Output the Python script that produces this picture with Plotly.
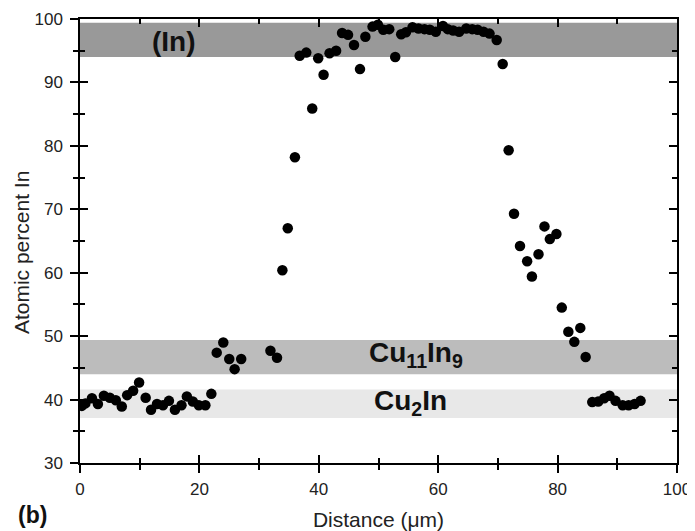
import plotly.graph_objects as go

# ---- data ----
distance = [0.3, 0.9, 2.0, 3.0, 4.0, 5.0, 6.0, 7.0, 7.9, 8.9, 9.9, 11.0, 11.9, 12.9, 13.9,
            14.9, 15.9, 17.0, 17.9, 18.9, 19.9, 21.0, 22.0, 22.9, 24.0, 25.0, 25.9, 27.0,
            31.9, 33.0, 33.9, 34.8, 36.0, 36.8, 37.9, 38.9, 39.9, 40.8, 41.8, 42.9, 43.9,
            44.9, 45.9, 46.9, 47.8, 49.0, 49.9, 50.8, 51.8, 52.8, 53.8, 54.6, 55.7, 56.7,
            57.7, 58.6, 59.6, 60.8, 61.6, 62.5, 63.5, 64.7, 65.7, 66.6, 67.6, 68.6, 69.8,
            70.8, 71.8, 72.7, 73.7, 74.9, 75.7, 76.8, 77.8, 78.7, 79.8, 80.7, 81.8, 82.8,
            83.8, 84.7, 85.8, 86.8, 87.8, 88.7, 89.7, 90.9, 91.9, 92.9, 93.9]
atomic_in = [39.0, 39.4, 40.2, 39.3, 40.6, 40.3, 39.9, 38.9, 40.7, 41.4, 42.7, 40.3, 38.4, 39.3,
             39.1, 39.8, 38.4, 39.1, 40.5, 39.7, 39.1, 39.1, 40.9, 47.4, 49.0, 46.4, 44.8, 46.4,
             47.7, 46.6, 60.4, 67.0, 78.2, 94.2, 94.7, 85.9, 93.8, 91.2, 94.6, 95.0, 97.8,
             97.5, 95.9, 92.1, 97.2, 98.8, 99.1, 98.3, 98.4, 94.0, 97.6, 97.9, 98.7, 98.5,
             98.4, 98.3, 98.0, 98.9, 98.4, 98.2, 98.0, 98.5, 98.4, 98.3, 98.0, 97.7, 96.7,
             92.9, 79.3, 69.3, 64.2, 61.8, 59.4, 62.9, 67.3, 65.3, 66.1, 54.5, 50.7, 49.1,
             51.3, 46.7, 39.6, 39.7, 40.2, 40.6, 39.8, 39.1, 39.1, 39.3, 39.8]

band_labels = ["(In)", "Cu<sub>11</sub>In<sub>9</sub>", "Cu<sub>2</sub>In"]
band_low = [94.0, 44.0, 37.1]
band_high = [99.4, 49.4, 41.6]
band_label_x = [15.7, 56.2, 55.4]
band_label_y = [96.5, 47.1, 39.5]
band_colors = ["#999999", "#bcbcbc", "#e8e8e8"]

x_range = [0, 100]
y_range = [30, 100]

FONT = "Liberation Sans, Arial, Helvetica, sans-serif"

fig = go.Figure()
fig.add_trace(go.Scatter(x=distance, y=atomic_in, mode="markers",
                         marker=dict(color="black", size=10.5, line=dict(width=0)),
                         showlegend=False))
# invisible trace to activate overlay axes (crossing ticks)
fig.add_trace(go.Scatter(x=distance, y=atomic_in, mode="markers", xaxis="x2", yaxis="y2",
                         marker=dict(opacity=0), showlegend=False, hoverinfo="skip"))

for lo, hi, col in zip(band_low, band_high, band_colors):
    fig.add_shape(type="rect", xref="paper", x0=0, x1=1, yref="y", y0=lo, y1=hi,
                  fillcolor=col, line=dict(width=0), layer="below")

for lab, lx, ly in zip(band_labels, band_label_x, band_label_y):
    fig.add_annotation(x=lx, y=ly, xref="x", yref="y", text="<b>" + lab + "</b>",
                       xanchor="center", yanchor="middle",
                       showarrow=False, font=dict(family=FONT, size=28, color="#111"))

fig.add_annotation(x=-0.08, y=-0.117, xref="paper", yref="paper", text="<b>(b)</b>",
                   xanchor="center", yanchor="middle",
                   showarrow=False, font=dict(family=FONT, size=23, color="#111"))

# y-axis title as annotation (placed slightly below centre, as in the reference)
fig.add_annotation(x=-0.097, y=0.473, xref="paper", yref="paper", text="Atomic percent In",
                   textangle=-90, xanchor="center", yanchor="middle",
                   showarrow=False, font=dict(family=FONT, size=21, color="#222"))

axis_common = dict(showgrid=False, zeroline=False, linecolor="black", linewidth=1.5,
                   tickcolor="black", tickwidth=1.5, automargin=False)

fig.update_layout(
    width=687, height=523,
    margin=dict(l=72, r=18, t=11, b=68, autoexpand=False),
    paper_bgcolor="white", plot_bgcolor="white",
    font=dict(family=FONT, color="#222"),
    xaxis=dict(range=x_range, dtick=20, tick0=0, ticks="outside", ticklen=8,
               showline=True, mirror=True, tickfont=dict(size=17),
               ticklabelstandoff=2,
               minor=dict(dtick=10, ticks="outside", ticklen=5, tickwidth=1.5, tickcolor="black"),
               title=dict(text="Distance (μm)", font=dict(size=21), standoff=14),
               **axis_common),
    yaxis=dict(range=y_range, dtick=10, tick0=0, ticks="outside", ticklen=8,
               showline=True, mirror=True, tickfont=dict(size=17),
               ticklabelstandoff=4,
               minor=dict(dtick=5, ticks="outside", ticklen=5, tickwidth=1.5, tickcolor="black"),
               **axis_common),
    xaxis2=dict(range=x_range, overlaying="x", anchor="y", side="bottom", dtick=20, tick0=0,
                ticks="inside", ticklen=8, showline=True, mirror="ticks", showticklabels=False,
                minor=dict(dtick=10, ticks="inside", ticklen=5, tickwidth=1.5, tickcolor="black"),
                **axis_common),
    yaxis2=dict(range=y_range, overlaying="y", anchor="x", side="left", dtick=10, tick0=0,
                ticks="inside", ticklen=8, showline=True, mirror="ticks", showticklabels=False,
                minor=dict(dtick=5, ticks="inside", ticklen=5, tickwidth=1.5, tickcolor="black"),
                **axis_common),
)

fig.write_html("out.html")
